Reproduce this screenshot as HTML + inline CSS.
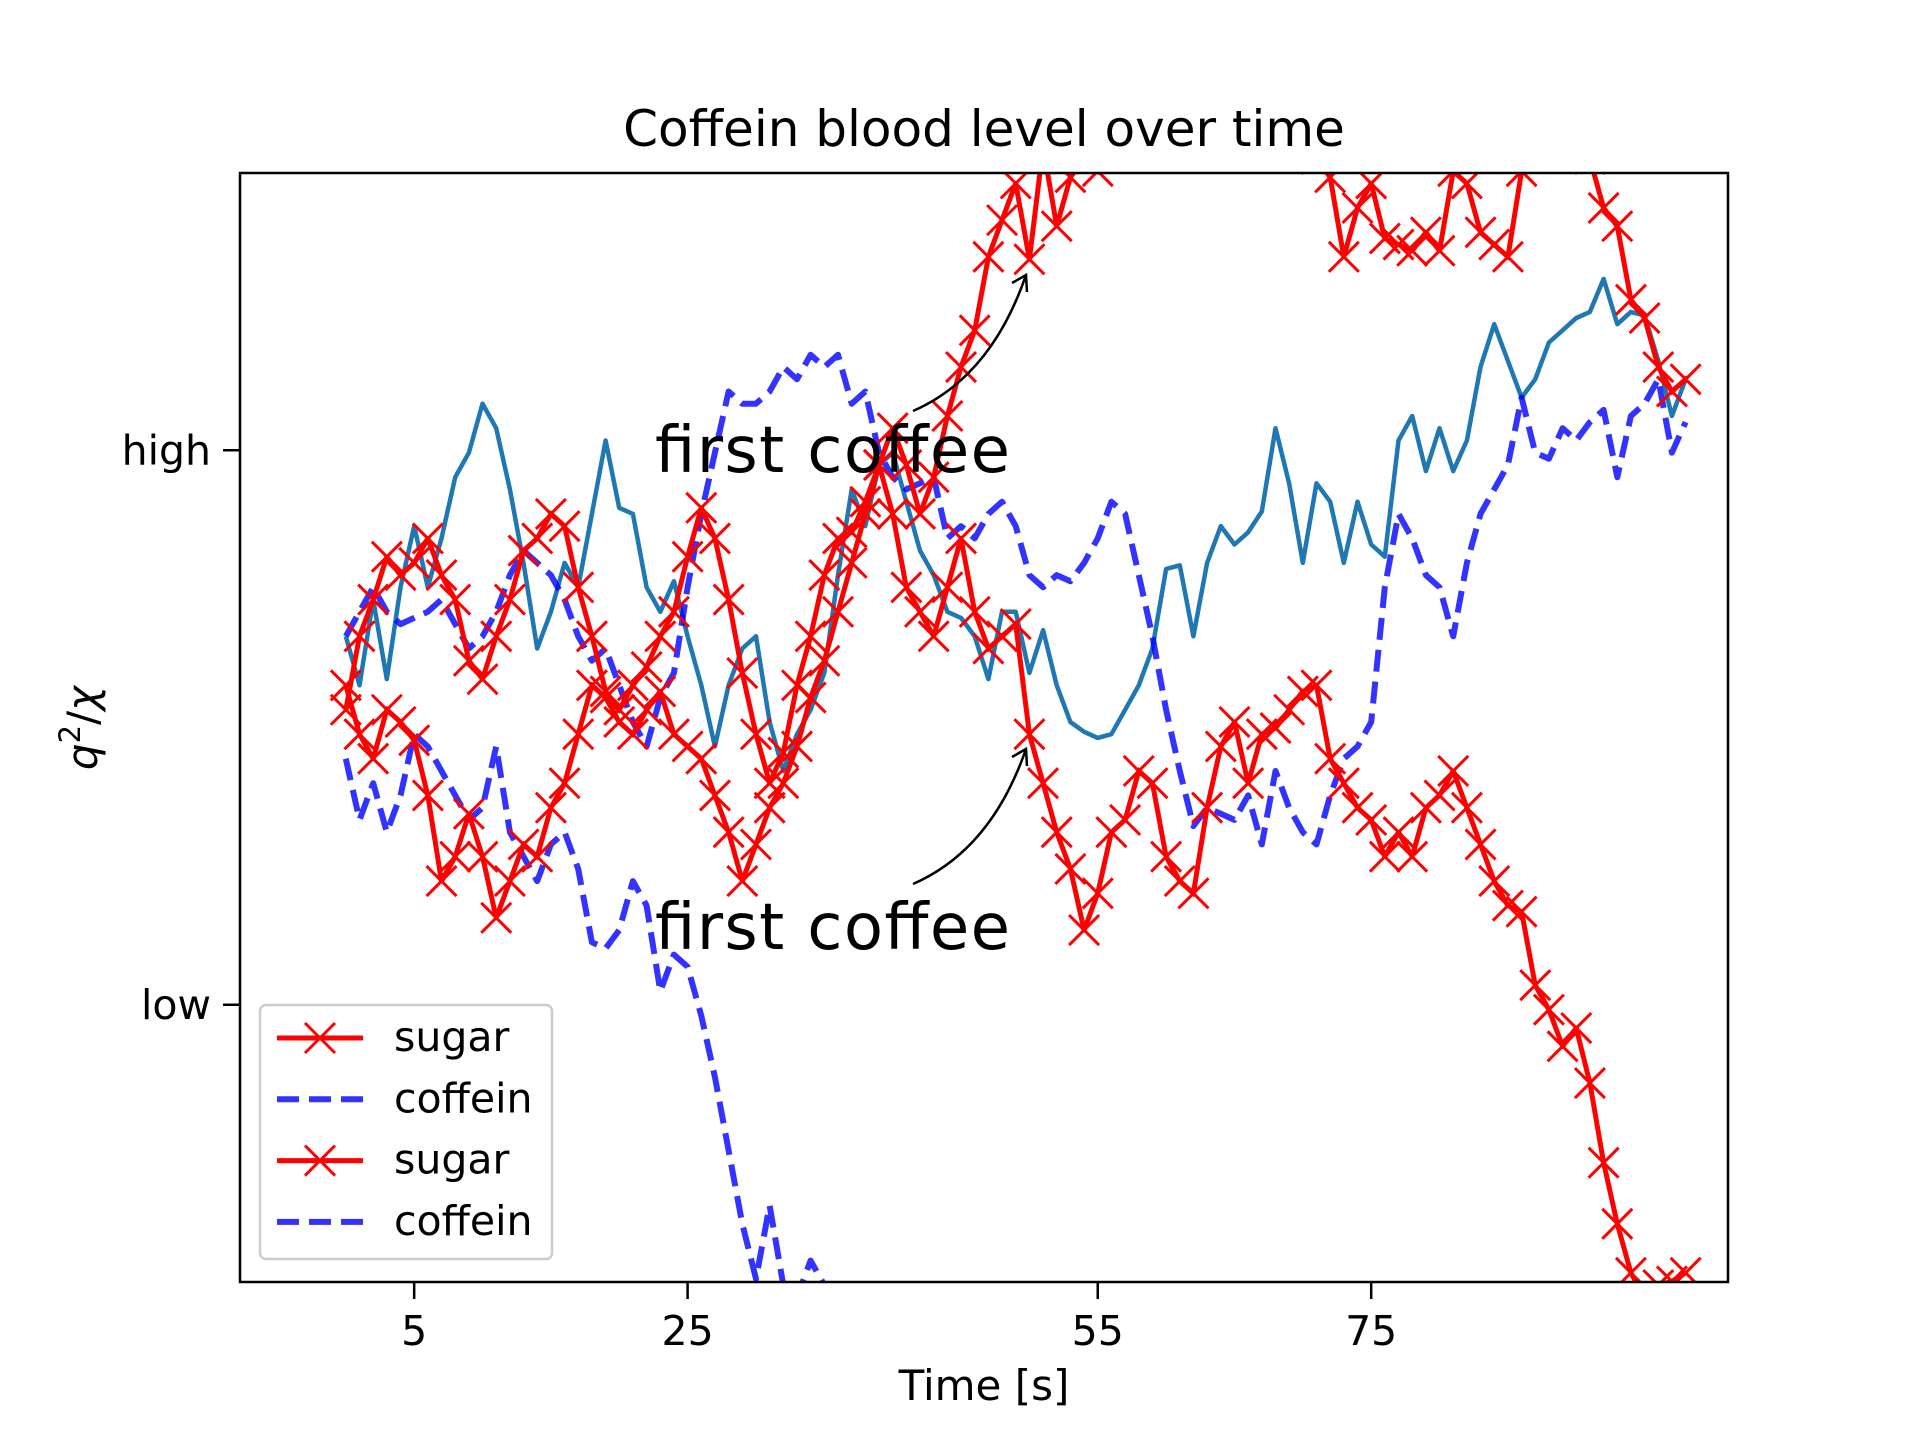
<!DOCTYPE html>
<html><head><meta charset="utf-8"><style>
html,body{margin:0;padding:0;background:#fff;overflow:hidden;width:1920px;height:1440px;}
svg{display:block;font-family:"DejaVu Sans","Liberation Sans",sans-serif;}
</style></head><body>
<svg id="chart" width="1920" height="1440" viewBox="0 0 1920 1440" xmlns="http://www.w3.org/2000/svg">
<defs><clipPath id="clip"><rect x="240" y="173" width="1488" height="1109"/></clipPath></defs>
<rect width="1920" height="1440" fill="#fff"/>
<text x="984" y="146" font-size="50" text-anchor="middle">Coffein blood level over time</text>
<g id="plot" clip-path="url(#clip)"></g>
<rect x="240" y="173" width="1488" height="1109" fill="none" stroke="#000" stroke-width="2.5"/>
<g id="ticks"></g>
<text x="984" y="1400" font-size="42" text-anchor="middle">Time [s]</text>
<text transform="translate(97,728) rotate(-90)" font-size="42" text-anchor="middle"><tspan font-style="italic">q</tspan><tspan font-size="29" dy="-17">2</tspan><tspan dy="17">/</tspan><tspan font-style="italic">χ</tspan></text>
<g id="annot">
<text x="655" y="472" font-size="64" textLength="355">first coffee</text>
<text x="655" y="949" font-size="64" textLength="355">first coffee</text>
</g>
<g id="legend">
<rect x="260" y="1005" width="292" height="254" rx="6" fill="#fff" fill-opacity="0.8" stroke="#ccc" stroke-width="2.5"/>
</g>
</svg>
<script>
const NS="http://www.w3.org/2000/svg";
const xTicks=[5,25,55,75];
const xTickLabels=["5","25","55","75"];
const yTicks=[1,0];
const yTickLabels=["high","low"];
const xDomain=[-7.74,101.1];
const yDomain=[-0.5,1.5];
// series read in picture units (display px, converted by toVal below)
const sugarA=[580,520,490,455,470,460,440,470,490,540,555,520,490,450,440,420,430,480,520,565,580,560,545,520,500,455,415,440,490,550,600,640,615,560,520,470,440,435,410,380,350,380,420,390,340,300,270,210,180,150,212,120,185,145,130,140,110,100,90,95,100,110,105,100,95,100,110,120,115,110,120,130,145,210,170,150,195,200,205,190,205,140,150,190,200,210,140,100,90,100,110,130,170,185,245,260,300,320,310];
const sugarB=[560,600,620,580,590,605,650,720,700,665,700,750,720,690,700,660,640,600,560,570,590,600,580,565,600,610,620,650,680,720,690,660,640,610,570,540,500,460,420,380,420,480,500,520,480,440,500,530,520,510,600,640,680,710,760,730,680,670,630,640,700,720,730,660,610,590,640,600,595,580,565,560,620,640,660,670,700,680,700,660,650,630,660,690,720,740,745,805,825,855,840,885,950,1000,1040,1060,1050,1047,1040];
const coffeinA=[620,670,640,680,650,600,610,630,650,670,660,610,680,700,720,690,680,710,770,775,760,720,740,810,780,790,830,880,940,1000,1045,985,1050,1060,1030,1050,1100,1120,1150,1180,1200,1220,1210,1240,1260,1280,1300,1290,1310,1320,1330,1340,1330,1350,1360,1370,1380,1370,1390,1400,1410,1420,1410,1430,1440,1450,1440,1460,1470,1480,1470,1490,1500,1510,1500,1520,1530,1540,1530,1550,1560,1570,1560,1580,1590,1600,1590,1610,1620,1630,1620,1640,1650,1660,1650,1670,1680,1690,1700];
const coffeinB=[520,500,480,500,510,505,500,490,510,530,520,500,470,450,460,470,490,520,540,530,560,590,610,570,550,480,420,370,320,330,330,320,300,310,290,300,290,330,320,370,390,400,395,390,440,430,440,420,410,430,470,480,470,475,460,440,410,420,470,520,580,630,675,660,665,670,650,690,630,660,680,690,650,620,610,590,480,420,440,470,480,520,460,420,400,380,325,370,375,350,360,345,335,390,340,330,310,370,345];
const trend=[520,560,490,555,480,430,480,440,390,370,330,350,400,460,530,500,460,480,420,360,415,420,480,500,475,520,560,610,560,530,520,590,630,600,580,550,470,400,430,380,370,410,450,470,500,505,520,555,500,500,550,515,560,590,598,603,600,580,560,530,465,462,520,460,430,445,435,418,350,395,460,395,410,460,410,445,455,360,340,385,350,385,360,300,265,295,325,310,280,270,260,255,228,265,255,258,295,340,310];
function toVal(d){return (821-d)/453;}
function sx(x){return 240+(x-xDomain[0])/(xDomain[1]-xDomain[0])*1488;}
function sy(v){return 1282-(v-yDomain[0])/(yDomain[1]-yDomain[0])*1109;}
function el(tag,attrs,parent){const e=document.createElementNS(NS,tag);for(const k in attrs)e.setAttribute(k,attrs[k]);parent.appendChild(e);return e;}
const plot=document.getElementById('plot');
function pts(arr){return arr.map((d,i)=>sx(i).toFixed(1)+','+sy(toVal(d)).toFixed(1)).join(' ');}
function drawLine(arr,name,stroke,width,dash,opacity){
  const p=el('polyline',{points:pts(arr),fill:'none',stroke:stroke,'stroke-width':width,'stroke-linejoin':'round'},plot);
  if(dash)p.setAttribute('stroke-dasharray',dash);
  if(opacity)p.setAttribute('stroke-opacity',opacity);
  
  
}
function drawMarkers(arr,name){
  const g=el('g',{stroke:'red','stroke-width':3},plot);
  
  
  arr.forEach((d,i)=>{const x=sx(i),y=sy(toVal(d)),r=15;
    const m=el('path',{d:`M${x-r},${y-r}L${x+r},${y+r}M${x-r},${y+r}L${x+r},${y-r}`},g);
    
    
  });
}
drawLine(trend,'trend-line','#1f77b4',4.5);
drawLine(coffeinA,'coffein-line-1','#0000ff',6,'22 10','0.8');
drawLine(coffeinB,'coffein-line-2','#0000ff',6,'22 10','0.8');
drawLine(sugarA,'sugar-line-1','red',5);
drawMarkers(sugarA,'sugar-markers-1');
drawLine(sugarB,'sugar-line-2','red',5);
drawMarkers(sugarB,'sugar-markers-2');
// arrows
const annot=document.getElementById('annot');
[[913,411,991,377,1026,275],[913,884,991,850,1026,749]].forEach((a,i)=>{
  const p=el('path',{d:`M${a[0]},${a[1]}Q${a[2]},${a[3]} ${a[4]},${a[5]}`,fill:'none',stroke:'#000','stroke-width':2.5},annot);
  
  
  const h=el('path',{d:`M${a[4]-14},${a[5]+8}L${a[4]},${a[5]}L${a[4]+1},${a[5]+17}`,fill:'none',stroke:'#000','stroke-width':2.5},annot);
  
  
});
// ticks
const tg=document.getElementById('ticks');
xTicks.forEach((t,i)=>{const x=sx(t);
  const l=el('line',{x1:x,x2:x,y1:1282,y2:1299,stroke:'#000','stroke-width':2.5},tg);
  
  
  const tx=el('text',{x:x,y:1345,'font-size':41,'text-anchor':'middle'},tg);tx.textContent=xTickLabels[i];
  
  
});
yTicks.forEach((t,i)=>{const y=sy(t);
  const l=el('line',{x1:223,x2:240,y1:y,y2:y,stroke:'#000','stroke-width':2.5},tg);
  
  
  const tx=el('text',{x:211,y:y+14,'font-size':41,'text-anchor':'end'},tg);tx.textContent=yTickLabels[i];
  
  
});
// legend
const lg=document.getElementById('legend');
const legendLabels=['sugar','coffein','sugar','coffein'];
legendLabels.forEach((lab,i)=>{const y=1038+i*61.3;
  const g=el('g',{},lg);
  
  
  if(lab==='sugar'){
    el('line',{x1:277,x2:363,y1:y,y2:y,stroke:'red','stroke-width':5},g);
    el('path',{d:`M${320-15},${y-15}L${320+15},${y+15}M${320-15},${y+15}L${320+15},${y-15}`,stroke:'red','stroke-width':3},g);
  }else{
    el('line',{x1:277,x2:363,y1:y,y2:y,stroke:'#0000ff','stroke-opacity':0.8,'stroke-width':6,'stroke-dasharray':'22 10'},g);
  }
  const t=el('text',{x:394,y:y+13,'font-size':41},g);t.textContent=lab;
});
</script>
</body></html>
